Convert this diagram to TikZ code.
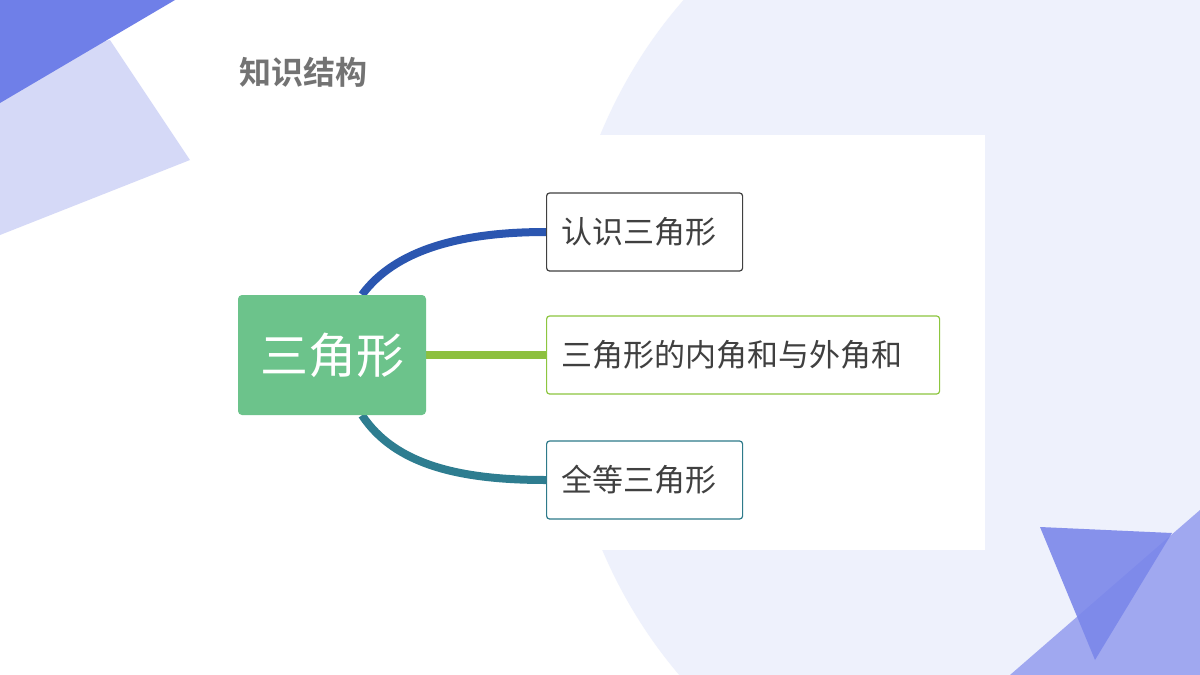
\documentclass[tikz,border=0pt]{standalone}
\usepackage{fontspec}
\setmainfont{Noto Sans CJK SC}
\newfontfamily\cjkb{Noto Sans CJK SC Bold}
\pgfdeclarelayer{conns}
\pgfsetlayers{conns,main}
\begin{document}
\begin{tikzpicture}[x=1pt,y=-1pt,
 box/.style={draw,rounded corners=3pt,line width=1.2pt,fill=white,minimum height=78pt,inner xsep=15pt,align=left,font=\fontsize{31}{32}\selectfont,text=black!75,anchor=west},
 conn/.style={line width=8pt}]
\definecolor{bgc}{HTML}{EEF1FC}
\useasboundingbox (0,0) rectangle (1200,675);
\begin{pgfonlayer}{conns}
\fill[white] (0,0) rectangle (1200,675);
\begin{scope}
\clip (0,0) rectangle (1200,675);
\fill[bgc] (980,340) ellipse [x radius=420, y radius=480];
\end{scope}
\fill[white] (230,135) rectangle (985,550);
\fill[color={rgb,255:red,213;green,217;blue,247}] (0,60) -- (110,40) -- (190,160) -- (0,235) -- cycle;
\fill[color={rgb,255:red,111;green,127;blue,232}] (0,0) -- (175,0) -- (0,103) -- cycle;
\fill[color={rgb,255:red,160;green,168;blue,240}] (1200,510) -- (1200,675) -- (1010,675) -- cycle;
\fill[color={rgb,255:red,123;green,135;blue,234},opacity=0.9] (1040,527) -- (1172,533) -- (1095,660) -- cycle;
\end{pgfonlayer}
\node[font=\cjkb\fontsize{32}{34}\selectfont,text=black!55,anchor=west,inner sep=0pt] (title) at (239,72) {知识结构};
\node[fill={rgb,255:red,108;green,195;blue,139},rounded corners=4pt,minimum width=188pt,minimum height=120pt,text=white,font=\fontsize{48}{50}\selectfont] (c) at (332,355) {三角形};
\node[box,draw=black!75,text width=166pt] (b1) at (546,232) {认识三角形};
\node[box,draw={rgb,255:red,141;green,198;blue,63},text width=363pt] (b2) at (546,355) {三角形的内角和与外角和};
\node[box,draw={rgb,255:red,46;green,122;blue,138},text width=166pt] (b3) at (546,480) {全等三角形};
\begin{pgfonlayer}{conns}
\draw[conn,color={rgb,255:red,43;green,86;blue,176}] (c.north) ++(30,0) coordinate (s1) (s1) .. controls (395,250) and (460,232) .. (b1.west);
\draw[conn,color={rgb,255:red,141;green,192;blue,63}] (c.east) -- (b2.west);
\draw[conn,color={rgb,255:red,46;green,125;blue,144}] (c.south) ++(30,0) coordinate (s3) (s3) .. controls (395,465) and (460,480) .. (b3.west);
\end{pgfonlayer}
\end{tikzpicture}
\end{document}
